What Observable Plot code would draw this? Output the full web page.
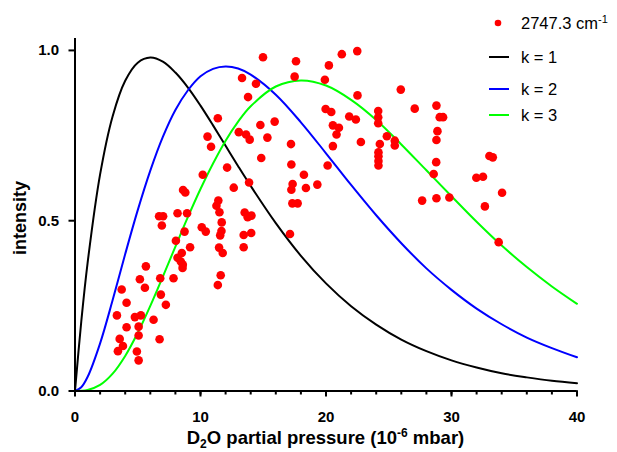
<!DOCTYPE html>
<html><head><meta charset="utf-8">
<script src="https://cdn.jsdelivr.net/npm/d3@7"></script>
<script src="https://cdn.jsdelivr.net/npm/@observablehq/plot@0.6"></script>
<style>
body{margin:0;background:#fff;}
#chart svg{display:block;}
</style></head><body><div id="chart"></div>
<script>
// Measured points (2747.3 cm-1 band)
const scatterX = [6.70,7.02,8.17,8.93,6.92,10.10,10.42,8.73,8.04,9.17,8.51,8.17,8.43,8.59,8.57,5.65,5.17,6.79,7.85,5.57,3.72,6.84,4.11,7.24,3.34,4.77,5.25,6.26,4.11,5.07,5.07,3.56,3.82,3.42,6.74,4.93,5.07,
14.98,17.61,17.50,13.31,14.42,13.79,11.38,15.91,14.77,13.05,13.63,13.92,10.56,15.33,10.84,17.21,14.84,17.24,12.12,10.18,13.87,17.34,17.24,8.61,8.79,12.65,11.42,11.27,11.51,17.32,17.74,13.52,13.76,14.06,11.69,11.67,11.57,13.44,14.04,17.13,11.48,11.77,13.44,11.61,11.38,
20.13,18.24,19.31,18.40,21.26,22.49,20.23,19.91,25.96,22.51,27.07,19.97,20.42,24.16,24.16,24.16,21.85,22.38,20.55,21.03,20.84,24.85,25.48,25.48,22.78,20.55,24.29,24.18,24.18,24.18,24.18,27.66,28.58,
28.80,29.06,29.33,28.88,28.80,28.78,28.80,29.83,33.02,33.29,31.98,32.51,34.03,32.66,33.76];
const scatterY = [0.513,0.513,0.522,0.522,0.486,0.481,0.468,0.468,0.441,0.422,0.405,0.391,0.380,0.371,0.361,0.366,0.328,0.331,0.331,0.303,0.298,0.283,0.259,0.253,0.222,0.217,0.222,0.209,0.187,0.189,0.163,0.153,0.132,0.117,0.152,0.116,0.090,
0.980,0.968,0.923,0.919,0.902,0.863,0.801,0.791,0.781,0.760,0.753,0.738,0.747,0.744,0.717,0.725,0.684,0.665,0.656,0.635,0.612,0.608,0.591,0.590,0.583,0.597,0.559,0.544,0.525,0.551,0.551,0.524,0.510,0.515,0.495,0.470,0.457,0.458,0.464,0.461,0.421,0.405,0.422,0.340,0.311,
0.662,0.635,0.606,0.596,0.989,0.998,0.956,0.914,0.885,0.868,0.829,0.828,0.819,0.822,0.804,0.786,0.806,0.797,0.780,0.773,0.753,0.748,0.735,0.721,0.731,0.719,0.725,0.701,0.689,0.675,0.662,0.559,0.637,
0.838,0.804,0.804,0.763,0.737,0.672,0.566,0.568,0.690,0.686,0.626,0.629,0.582,0.542,0.437];

// Model curves
const curveX = [0,0.5,1,2,3,4,5,6,7,8,9,10,11,12,13,14,16,18,20,22,24,26,28,30,32,34,36,38,40];
const k1 = [0,0.204,0.375,0.636,0.807,0.911,0.964,0.979,0.967,0.935,0.891,0.838,0.780,0.720,0.660,0.602,0.493,0.397,0.316,0.249,0.195,0.151,0.117,0.090,0.069,0.052,0.040,0.030,0.023];
const k2 = [0,0.011,0.041,0.140,0.267,0.402,0.531,0.647,0.746,0.825,0.883,0.924,0.946,0.953,0.947,0.929,0.870,0.789,0.698,0.605,0.516,0.434,0.360,0.297,0.242,0.196,0.157,0.126,0.099];
const k3 = [0,0.0004,0.003,0.018,0.051,0.103,0.171,0.250,0.336,0.424,0.511,0.593,0.668,0.735,0.791,0.836,0.894,0.912,0.897,0.855,0.796,0.724,0.648,0.572,0.497,0.427,0.364,0.307,0.256];

const seriesNames = ["k = 1","k = 2","k = 3"];
const seriesColors = ["#000000","#0000ff","#00ff00"];
const pointName = "2747.3 cm";
const pointSup = "-1";
const pointColor = "#ff0000";

const xMajorTicks = [0,10,20,30,40];
const xMinorTicks = [0,2,4,6,8,10,12,14,16,18,20,22,24,26,28,30,32,34,36,38,40];
const yTicks = [0,0.5,1];

const points = scatterX.map((x,i)=>({x, y: scatterY[i]}));
const curves = [k1,k2,k3].flatMap((arr,j)=>curveX.map((x,i)=>({x, y: arr[i], k: seriesNames[j]})));

const W = 617, H = 452;
const svg = Plot.plot({
  width: W, height: H,
  marginLeft: 74.5, marginRight: 40.5, marginTop: 38, marginBottom: 61.5,
  style: {fontFamily: "'Liberation Sans', Arial, sans-serif", fontSize: "15px", fontWeight: "bold", color: "#000", background: "#fff", overflow: "visible"},
  x: {domain: [0,40]},
  y: {domain: [0,1.035]},
  color: {domain: seriesNames, range: seriesColors},
  marks: [
    Plot.line(curves, {x: "x", y: "y", z: "k", stroke: "k", strokeWidth: 2, curve: "catmull-rom"}),
    Plot.dot(points, {x: "x", y: "y", r: 4.3, fill: pointColor, stroke: "none"}),
    Plot.ruleX([0], {strokeWidth: 2}),
    Plot.ruleY([0], {strokeWidth: 2}),
    Plot.axisX({ticks: xMinorTicks, tickSize: 4, tickFormat: () => "", label: null, strokeWidth: 2}),
    Plot.axisX({ticks: xMajorTicks, tickSize: 6, tickPadding: 14, label: null, strokeWidth: 2}),
    Plot.axisY({ticks: yTicks, tickSize: 6, tickPadding: 10, tickFormat: d3.format(".1f"), label: null, strokeWidth: 2})
  ]
});

const s = d3.select(svg);
// x axis title with sub/superscript
const xl = s.append("text").attr("x", 325.5).attr("y", 444).attr("text-anchor", "middle")
  .style("font-size", "18.5px").style("font-weight", "bold").attr("fill", "#000");
xl.append("tspan").text("D");
xl.append("tspan").attr("dy", 4).style("font-size", "12px").text("2");
xl.append("tspan").attr("dy", -4).text("O partial pressure (10");
xl.append("tspan").attr("dy", -7).style("font-size", "12px").text("-6");
xl.append("tspan").attr("dy", 7).text(" mbar)");
// y axis title
s.append("text").attr("transform", "translate(26,218) rotate(-90)").attr("text-anchor", "middle")
  .style("font-size", "18px").style("font-weight", "bold").attr("fill", "#000").text("intensity");

// legend
const lg = s.append("g").style("font-weight", "normal").style("font-size", "16.5px").attr("text-anchor", "start");
lg.append("circle").attr("cx", 498).attr("cy", 23).attr("r", 3.3).attr("fill", pointColor);
const t0 = lg.append("text").attr("x", 521).attr("y", 23).attr("dy", "0.35em").attr("text-anchor", "start").attr("fill", "#000");
t0.append("tspan").text(pointName);
t0.append("tspan").attr("dy", -6).style("font-size", "11px").text(pointSup);
const rowsY = [57, 89, 115];
seriesNames.forEach((name, i) => {
  lg.append("line").attr("x1", 489).attr("x2", 509).attr("y1", rowsY[i]).attr("y2", rowsY[i])
    .attr("stroke", seriesColors[i]).attr("stroke-width", 2);
  lg.append("text").attr("x", 521).attr("y", rowsY[i]).attr("dy", "0.35em").attr("text-anchor", "start").attr("fill", "#000").text(name);
});

document.getElementById("chart").appendChild(svg);
</script>
</body></html>
